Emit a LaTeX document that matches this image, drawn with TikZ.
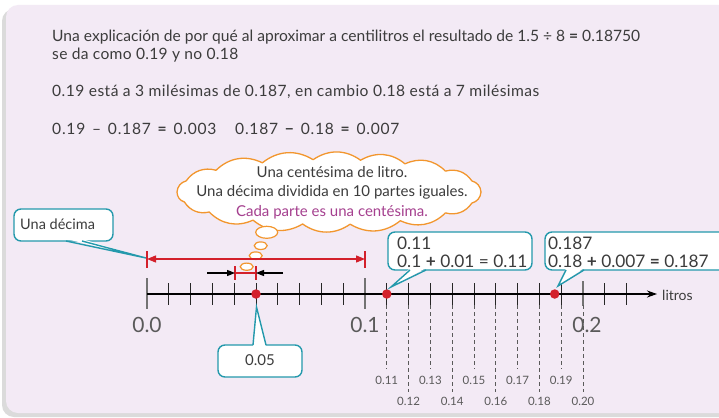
\documentclass[tikz,border=0pt]{standalone}
\usepackage{fontspec}
\setmainfont{Lato}
\usetikzlibrary{arrows.meta}
\definecolor{panel}{HTML}{F3EAF5}
\definecolor{tealc}{HTML}{2499AC}
\definecolor{orng}{HTML}{F2962E}
\definecolor{redd}{HTML}{D3202B}
\definecolor{purp}{HTML}{A5408F}
\definecolor{txt}{HTML}{3C3C3C}
\definecolor{grayt}{HTML}{5A5A5A}
\begin{document}
\begin{tikzpicture}[x=1pt,y=-1pt,
  toptext/.style={inner sep=0pt, text=txt, anchor=base west, font=\fontsize{15.6}{18}\selectfont},
  cloudtext/.style={inner sep=0pt, text=txt, font=\fontsize{15}{17}\selectfont},
  boxtext/.style={inner sep=0pt, text=txt, anchor=base west, font=\fontsize{17.3}{19}\selectfont},
  bigtick/.style={inner sep=0pt, text=grayt, font=\fontsize{21}{24}\selectfont},
  smalllab/.style={inner sep=0pt, text=grayt, font=\fontsize{11.5}{13}\selectfont},
  callbox/.style={draw=tealc, line width=1.4pt, fill=white, rounded corners=7pt},
  wedge/.style={draw=tealc, line width=1.4pt, line join=miter},
  reddot/.style={circle, fill=redd, inner sep=0pt, minimum size=9.5pt},
  redline/.style={draw=redd, line width=1.3pt},
  bubble/.style={draw=orng, line width=1.2pt, fill=white},
  cloudline/.style={draw=orng, line width=1.3pt, fill=white, line join=round},
  dashv/.style={draw=grayt, line width=0.9pt, dash pattern=on 4pt off 3pt},
  mintick/.style={draw=black!85, line width=0.9pt},
  majtick/.style={draw=black!55, line width=1.3pt}
]
\useasboundingbox (0,0) rectangle (719,417);
\clip (0,0) rectangle (719,417);
\fill[white] (0,0) rectangle (719,417);
\fill[black!14, rounded corners=12pt] (2,9) rectangle (745,417);
\fill[panel, rounded corners=12pt] (6,5) rectangle (745,413);

% top texts
\node[toptext] (l1) at (52,42) {Una explicación de por qué al aproximar a centilitros el resultado de 1.5 ÷ 8 {\bfseries =} 0.18750};
\node[toptext] (l2) at (52,60) {\addfontfeatures{LetterSpace=2}se da como 0.19 y no 0.18};
\node[toptext] (l3) at (52,97) {\addfontfeatures{LetterSpace=2.9}0.19 está a 3 milésimas de 0.187, en cambio 0.18 está a 7 milésimas};
\node[toptext] (l4a) at (52,134) {\addfontfeatures{LetterSpace=5}0.19\hspace{2pt} – \hspace{2pt}0.187\hspace{2pt} {\bfseries =} \hspace{2pt}0.003};
\node[toptext] (l4b) at (235,134) {\addfontfeatures{LetterSpace=5}0.187\hspace{2pt} {\bfseries −} \hspace{2pt}0.18\hspace{2pt} {\bfseries =} \hspace{2pt}0.007};

% cloud
\foreach \a [count=\k] in {0,20,40,62,82,100,120,142,162,180,200,222,244,264,282,300,320,340} {
  \coordinate (cp\k) at ({329+152*cos(\a)},{192+32.5*sin(\a)});
}
\path[cloudline] (cp1)
  to[bend left=35] (cp2) to[bend left=35] (cp3) to[bend left=35] (cp4)
  to[bend left=35] (cp5) to[bend left=35] (cp6) to[bend left=35] (cp7)
  to[bend left=35] (cp8) to[bend left=35] (cp9) to[bend left=35] (cp10)
  to[bend left=35] (cp11) to[bend left=35] (cp12) to[bend left=35] (cp13)
  to[bend left=35] (cp14) to[bend left=35] (cp15) to[bend left=35] (cp16)
  to[bend left=35] (cp17) to[bend left=35] (cp18)
  to[bend left=35] (cp1) -- cycle;
\node[cloudtext] (c1) at (332,172) {Una centésima de litro.};
\node[cloudtext] (c2) at (332,192) {Una décima dividida en 10 partes iguales.};
\node[cloudtext, text=purp] (c3) at (332,212) {Cada parte es una centésima.};
\draw[bubble] (266.7,232.3) ellipse [x radius=11pt, y radius=6pt];
\draw[bubble] (260.7,245.7) ellipse [x radius=6.5pt, y radius=3.8pt];
\draw[bubble] (255.7,255.7) ellipse [x radius=6.5pt, y radius=3.8pt];
\draw[bubble] (246.7,266.7) ellipse [x radius=6.5pt, y radius=3.6pt];

% red measure arrows
\coordinate (ra) at (147,259);
\coordinate (rb) at (365,259);
\draw[redline, {Triangle[length=9pt,width=7pt]}-{Triangle[length=9pt,width=7pt]}] (ra) -- (rb);
\draw[redline] (147,251) -- (147,268);
\draw[redline] (365,251) -- (365,268);
\coordinate (sa) at (235,273);
\coordinate (sb) at (256,273);
\draw[redline] (sa) -- (sb);
\draw[redline] (235,266) -- (235,280);
\draw[redline] (256,266) -- (256,280);
\coordinate (ka) at (207,273);
\coordinate (kb) at (283,273);
\draw[line width=1.1pt, -{Triangle[length=8pt,width=6pt]}] (ka) -- (sa);
\draw[line width=1.1pt, -{Triangle[length=8pt,width=6pt]}] (kb) -- (sb);

% axis
\coordinate (ax0) at (147,294);
\coordinate (ax1) at (657,294);
\foreach \i in {0,...,22} {
  \pgfmathsetmacro\xx{147+21.8*\i}
  \ifnum\i=0 \draw[majtick] (\xx,278) -- (\xx,309);
  \else\ifnum\i=10 \draw[majtick] (\xx,278) -- (\xx,309);
  \else\ifnum\i=20 \draw[majtick] (\xx,281) -- (\xx,306);
  \else \draw[mintick] (\xx,283) -- (\xx,305);
  \fi\fi\fi
}
\draw[line width=1.1pt, -{Stealth[length=10pt,width=7pt]}] (ax0) -- (ax1);
\node[inner sep=0pt, text=txt, anchor=west, font=\fontsize{14}{16}\selectfont] (litros) at (662,295) {litros};

% dashed lines and small labels
\foreach \i in {11,13,15,17,19} {
  \pgfmathsetmacro\xx{147+21.8*\i}
  \draw[dashv] (\xx,305) -- (\xx,369);
  \node[smalllab] (s\i) at (\xx,380) {0.\i};
}
\foreach \i in {12,14,16,18,20} {
  \pgfmathsetmacro\xx{147+21.8*\i}
  \draw[dashv] (\xx,305) -- (\xx,392);
  \node[smalllab] (s\i) at (\xx,401) {0.\i};
}

% big labels
\node[bigtick] (t0) at (147,325) {0.0};
\node[bigtick] (t1) at (365,325) {0.1};
\node[bigtick] (t2) at (587,325) {0.2};

% dots
\node[reddot] (d05) at (256,294) {};
\node[reddot] (d11) at (386.8,294) {};
\node[reddot] (d187) at (554.7,294) {};

% callout: Una decima
\draw[callbox] (14,209) rectangle (113,241);
\fill[white] (66,239) -- (146,258) -- (82,239) -- cycle;
\draw[wedge] (66,241) -- (146,258) -- (82,241);
\node[inner sep=0pt, text=txt, anchor=base west, font=\fontsize{14.5}{17}\selectfont] (ud) at (20,229.5) {Una décima};

% callout: 0.11
\draw[callbox] (388,232) rectangle (532,270);
\fill[white] (410,268) -- (391,287) -- (426,268) -- cycle;
\draw[wedge] (410,270) -- (391,287) -- (426,270);
\node[boxtext] (b1a) at (397,249.5) {0.11};
\node[boxtext] (b1b) at (397,267) {0.1 {\bfseries +} 0.01 = 0.11};

% callout: 0.187
\draw[callbox] (545,232) rectangle (745,270);
\fill[white] (566,268) -- (558,286) -- (584,268) -- cycle;
\draw[wedge] (566,270) -- (558,286) -- (584,270);
\node[boxtext] (b2a) at (548,249.5) {0.187};
\node[boxtext] (b2b) at (548,267) {0.18 {\bfseries +} 0.007 {\bfseries =} 0.187};

% callout: 0.05
\draw[callbox] (218,345) rectangle (302,377);
\fill[white] (253,347) -- (256.5,307) -- (266,347) -- cycle;
\draw[wedge] (253,345) -- (256.5,307) -- (266,345);
\node[inner sep=0pt, text=txt, font=\fontsize{15}{17}\selectfont] (v05) at (260,360) {0.05};
\end{tikzpicture}
\end{document}
